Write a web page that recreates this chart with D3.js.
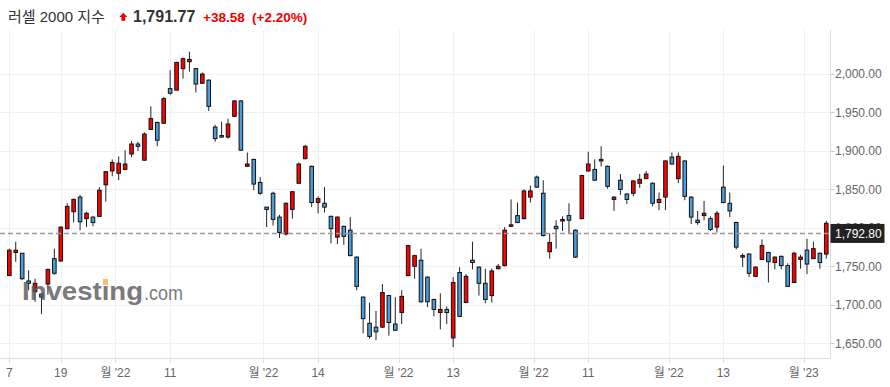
<!DOCTYPE html>
<html>
<head>
<meta charset="utf-8">
<script src="https://cdn.jsdelivr.net/npm/d3@7"></script>
<style>
  body { margin: 0; background: #fff; }
  svg { display: block; font-family: Arial, "Liberation Sans", "Noto Sans CJK KR", sans-serif; }
</style>
</head>
<body>
<svg width="890" height="387"></svg>
<script>
// trading days shown on the chart
const dates = [
  "2022-07-07","2022-07-08","2022-07-11","2022-07-12","2022-07-13","2022-07-14","2022-07-15","2022-07-18","2022-07-19","2022-07-20",
  "2022-07-21","2022-07-22","2022-07-25","2022-07-26","2022-07-27","2022-07-28","2022-07-29","2022-08-01","2022-08-02","2022-08-03",
  "2022-08-04","2022-08-05","2022-08-08","2022-08-09","2022-08-10","2022-08-11","2022-08-12","2022-08-15","2022-08-16","2022-08-17",
  "2022-08-18","2022-08-19","2022-08-22","2022-08-23","2022-08-24","2022-08-25","2022-08-26","2022-08-29","2022-08-30","2022-08-31",
  "2022-09-01","2022-09-02","2022-09-06","2022-09-07","2022-09-08","2022-09-09","2022-09-12","2022-09-13","2022-09-14","2022-09-15",
  "2022-09-16","2022-09-19","2022-09-20","2022-09-21","2022-09-22","2022-09-23","2022-09-26","2022-09-27","2022-09-28","2022-09-29",
  "2022-09-30","2022-10-03","2022-10-04","2022-10-05","2022-10-06","2022-10-07","2022-10-10","2022-10-11","2022-10-12","2022-10-13",
  "2022-10-14","2022-10-17","2022-10-18","2022-10-19","2022-10-20","2022-10-21","2022-10-24","2022-10-25","2022-10-26","2022-10-27",
  "2022-10-28","2022-10-31","2022-11-01","2022-11-02","2022-11-03","2022-11-04","2022-11-07","2022-11-08","2022-11-09","2022-11-10",
  "2022-11-11","2022-11-14","2022-11-15","2022-11-16","2022-11-17","2022-11-18","2022-11-21","2022-11-22","2022-11-23","2022-11-25",
  "2022-11-28","2022-11-29","2022-11-30","2022-12-01","2022-12-02","2022-12-05","2022-12-06","2022-12-07","2022-12-08","2022-12-09",
  "2022-12-12","2022-12-13","2022-12-14","2022-12-15","2022-12-16","2022-12-19","2022-12-20","2022-12-21","2022-12-22","2022-12-23",
  "2022-12-27","2022-12-28","2022-12-29","2022-12-30","2023-01-03","2023-01-04","2023-01-05","2023-01-06"
];

// OHLC
const open = [
  1738,1768,1767,1731,1717,1714,1727,1760,1757,1799, 1821,1840,1812,1814,1815,1856,1874,1871,1876,1896,
  1909,1888,1928,1937,1936,1981,1979,2007,2016,2007, 1988,1992,1931,1920,1918,1945,1965,1880,1889,1859,
  1827,1845,1814,1792,1824,1858,1890,1880,1833,1832, 1815,1788,1802,1797,1762,1710,1676,1671,1671,1712,
  1675,1690,1738,1750,1758,1736,1707,1690,1694,1657, 1742,1703,1758,1749,1728,1712,1747,1751,1802,1816,
  1812,1840,1866,1845,1769,1802,1809,1816,1797,1812, 1874,1876,1887,1880,1837,1862,1844,1845,1858,1864,
  1858,1833,1840,1892,1864,1887,1840,1810,1816,1812, 1801,1853,1832,1807,1762,1766,1737,1759,1768,1755,
  1763,1751,1729,1759,1771,1760,1767,1766
];
const high = [
  1773,1782,1767,1745,1734,1715,1747,1773,1802,1832, 1838,1843,1821,1815,1853,1874,1889,1893,1901,1913,
  1912,1924,1958,1938,1970,2005,2016,2021,2029,2008, 2002,1993,1934,1938,1942,1966,1966,1898,1890,1866,
  1827,1847,1817,1833,1848,1885,1908,1881,1841,1853, 1816,1815,1803,1814,1763,1711,1703,1692,1727,1713,
  1710,1719,1778,1765,1773,1737,1708,1715,1698,1736, 1749,1740,1782,1750,1747,1747,1753,1801,1837,1833,
  1850,1855,1868,1862,1793,1810,1815,1832,1798,1869, 1899,1889,1906,1881,1841,1870,1845,1862,1870,1874,
  1859,1846,1888,1898,1898,1888,1841,1822,1835,1815, 1822,1881,1846,1808,1767,1767,1750,1785,1769,1763,
  1764,1754,1769,1765,1786,1782,1768,1809
];
const low = [
  1738,1756,1732,1719,1704,1688,1713,1739,1756,1798, 1807,1797,1801,1802,1814,1834,1867,1862,1875,1892,
  1900,1887,1928,1906,1935,1973,1979,1994,2003,1976, 1987,1952,1912,1917,1916,1944,1900,1879,1849,1843,
  1801,1803,1787,1790,1812,1857,1889,1827,1819,1820, 1780,1779,1778,1763,1719,1663,1656,1654,1670,1660,
  1666,1675,1737,1734,1703,1697,1685,1668,1675,1645, 1684,1702,1746,1712,1702,1703,1746,1750,1801,1806,
  1811,1833,1852,1789,1760,1773,1796,1793,1761,1811, 1873,1861,1880,1851,1822,1843,1831,1841,1852,1864,
  1828,1823,1823,1882,1858,1836,1805,1804,1810,1796, 1794,1832,1814,1772,1749,1736,1736,1759,1729,1746,
  1746,1723,1729,1747,1740,1760,1747,1760
];
const close = [
  1771,1771,1734,1728,1728,1710,1746,1741,1801,1828, 1837,1808,1819,1807,1849,1873,1885,1884,1883,1909,
  1906,1922,1942,1914,1968,1975,2015,2020,2019,1987, 2000,1958,1916,1918,1935,1965,1901,1883,1857,1845,
  1824,1811,1794,1832,1847,1883,1906,1833,1838,1827, 1799,1814,1789,1764,1724,1682,1659,1665,1716,1677,
  1667,1711,1777,1764,1704,1704,1694,1694,1690,1729, 1685,1737,1755,1728,1707,1744,1750,1797,1804,1807,
  1848,1848,1853,1790,1781,1799,1811,1810,1762,1868, 1883,1862,1889,1854,1840,1850,1837,1861,1863,1870,
  1832,1837,1887,1883,1893,1841,1814,1807,1819,1798, 1819,1833,1822,1775,1764,1741,1749,1777,1756,1762,
  1751,1724,1767,1762,1753,1773,1755,1806
];

const yTicks = [1650, 1700, 1750, 1800, 1850, 1900, 1950, 2000];
const tickDates = ["2022-07-07","2022-07-19","2022-08-01","2022-08-11","2022-09-01","2022-09-14",
  "2022-10-03","2022-10-13","2022-11-01","2022-11-11","2022-12-01","2022-12-13","2023-01-03"];
const tickLabels = ["7","19","월 '22","11","월 '22","14","월 '22","13","월 '22","11","월 '22","13","월 '23"];

const lastPrice = 1792.80;
const titleName = "러셀 2000 지수";
const titlePrice = "1,791.77";
const titleChange = "+38.58";
const titlePct = "(+2.20%)";

const candles = dates.map((d, i) => ({date: d, o: open[i], h: high[i], l: low[i], c: close[i]}));

const svg = d3.select("svg");
const plotTop = 30, plotBottom = 358, plotRight = 830.5;

const x = d3.scaleBand().domain(dates).range([6.1, 829.5]).padding(0);
const y = d3.scaleLinear().domain([1650, 2000]).range([343.3, 74]);
const fmt = d3.format(",.2f");

// tick x: month ticks sit on the band edge, day ticks on the candle centre
const tickX = (d, i) => tickLabels[i].includes("월") ? x(d) : x(d) + x.bandwidth() / 2;

// grid
svg.append("g").selectAll("line").data(yTicks).join("line")
  .attr("x1", 0).attr("x2", plotRight)
  .attr("y1", d => Math.round(y(d)) + 0.5).attr("y2", d => Math.round(y(d)) + 0.5)
  .attr("stroke", "#f1f1f1");

svg.append("g").selectAll("line").data(tickDates).join("line")
  .attr("x1", (d, i) => Math.round(tickX(d, i)) + 0.5).attr("x2", (d, i) => Math.round(tickX(d, i)) + 0.5)
  .attr("y1", plotTop).attr("y2", plotBottom + 5)
  .attr("stroke", "#f1f1f1");

// axes lines
svg.append("line").attr("x1", 0).attr("x2", plotRight).attr("y1", plotBottom + 0.5).attr("y2", plotBottom + 0.5).attr("stroke", "#dcdcdc");
svg.append("line").attr("x1", plotRight).attr("x2", plotRight).attr("y1", plotTop).attr("y2", plotBottom).attr("stroke", "#dcdcdc");

// small ticks under the axis
svg.append("g").selectAll("line").data(tickDates).join("line")
  .attr("x1", (d, i) => Math.round(tickX(d, i)) + 0.5).attr("x2", (d, i) => Math.round(tickX(d, i)) + 0.5)
  .attr("y1", plotBottom).attr("y2", plotBottom + 5)
  .attr("stroke", "#dcdcdc");

svg.append("g").selectAll("text").data(tickDates).join("text")
  .attr("x", (d, i) => tickX(d, i))
  .attr("y", 377)
  .attr("text-anchor", "middle")
  .attr("font-size", 12)
  .attr("fill", "#666")
  .text((d, i) => tickLabels[i]);

// y labels
const yl = svg.append("g");
yl.selectAll("line").data(yTicks).join("line")
  .attr("x1", plotRight).attr("x2", plotRight + 4)
  .attr("y1", d => Math.round(y(d)) + 0.5).attr("y2", d => Math.round(y(d)) + 0.5)
  .attr("stroke", "#ccc");
yl.selectAll("text").data(yTicks).join("text")
  .attr("x", 835)
  .attr("y", d => y(d))
  .attr("dy", "0.35em")
  .attr("font-size", 12)
  .attr("fill", "#666")
  .text(d => fmt(d));

// candles
const cg = svg.append("g");
const cx = d => x(d.date) + x.bandwidth() / 2;

cg.selectAll("line").data(candles).join("line")
  .attr("x1", cx).attr("x2", cx)
  .attr("y1", d => y(d.h)).attr("y2", d => y(d.l))
  .attr("stroke", "#222")
  .attr("stroke-width", 1);

cg.selectAll("rect").data(candles).join("rect")
  .attr("x", d => cx(d) - 1.8)
  .attr("width", 3.6)
  .attr("y", d => y(Math.max(d.o, d.c)))
  .attr("height", d => Math.max(1, Math.abs(y(d.o) - y(d.c))))
  .attr("fill", d => d.c >= d.o ? "#ff0000" : "#4b9cdb")
  .attr("stroke", "#111")
  .attr("stroke-width", 1);

// watermark
const wm = svg.append("g").attr("opacity", 0.8);
const inv = wm.append("text")
  .attr("x", 22).attr("y", 300)
  .attr("font-size", 26).attr("font-weight", "bold")
  .attr("fill", "#5a5a5a")
  .attr("textLength", 121).attr("lengthAdjust", "spacingAndGlyphs")
  .text("Investing");
wm.append("text")
  .attr("x", 144).attr("y", 300)
  .attr("font-size", 20)
  .attr("fill", "#5a5a5a")
  .attr("textLength", 39).attr("lengthAdjust", "spacingAndGlyphs")
  .text(".com");
const ext = inv.node().getExtentOfChar(6);
wm.append("rect")
  .attr("x", ext.x + ext.width / 2 - 2.5).attr("y", 279)
  .attr("width", 5).attr("height", 6)
  .attr("fill", "#f7b24a");

// last price line and label
svg.append("line")
  .attr("x1", 0).attr("x2", plotRight)
  .attr("y1", y(lastPrice)).attr("y2", y(lastPrice))
  .attr("stroke", "#999").attr("stroke-width", 1.5)
  .attr("stroke-dasharray", "5,3");
svg.append("rect")
  .attr("x", plotRight).attr("y", y(lastPrice) - 9.5)
  .attr("width", 54).attr("height", 19)
  .attr("fill", "#222");
svg.append("text")
  .attr("x", 835).attr("y", y(lastPrice))
  .attr("dy", "0.35em")
  .attr("font-size", 12)
  .attr("fill", "#fff")
  .text(fmt(lastPrice));

// title
svg.append("text").attr("x", 8).attr("y", 21.5)
  .attr("font-size", 15).attr("fill", "#333")
  .text(titleName);
svg.append("path")
  .attr("d", "M119.3,17 L123.3,12.7 L127.3,17 L125.2,17 L125.2,20.7 L121.4,20.7 L121.4,17 Z")
  .attr("fill", "#e00");
svg.append("text").attr("x", 133).attr("y", 21.5)
  .attr("font-size", 16).attr("font-weight", "bold").attr("fill", "#333")
  .text(titlePrice);
svg.append("text").attr("x", 203).attr("y", 21.5)
  .attr("font-size", 13.5).attr("font-weight", "bold").attr("fill", "#e00")
  .text(titleChange);
svg.append("text").attr("x", 252).attr("y", 21.5)
  .attr("font-size", 13.5).attr("font-weight", "bold").attr("fill", "#e00")
  .text(titlePct);
</script>
</body>
</html>
